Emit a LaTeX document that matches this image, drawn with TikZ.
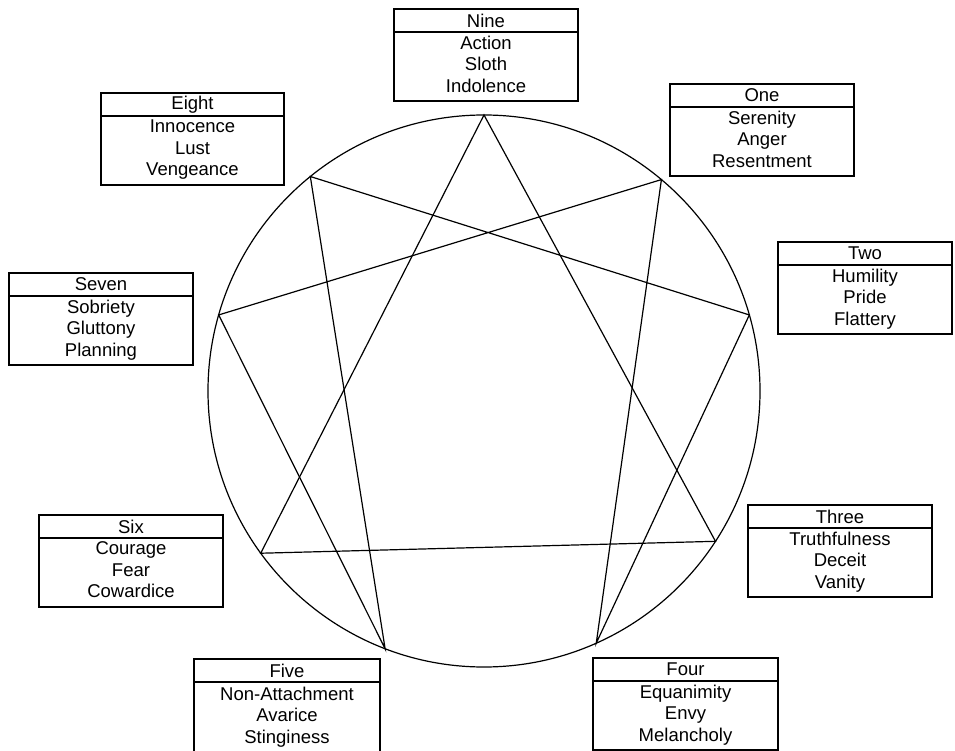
\documentclass[tikz,border=0pt]{standalone}
\usepackage{fontspec}
\setmainfont{Liberation Sans}
\begin{document}
\begin{tikzpicture}[x=1pt,y=-1pt,line width=1.2pt,
  cellfont/.style={font=\fontsize{18.5}{21.5}\selectfont},
  titlecell/.style={draw,cellfont,rectangle,inner sep=0pt,outer sep=0pt,minimum height=23pt},
  bodycell/.style={draw,cellfont,rectangle,align=center,inner sep=0pt,outer sep=0pt,minimum height=69pt,text depth=5pt},
  ringstyle/.style={draw,circle,inner sep=0pt,outer sep=0pt,minimum size=552pt}]
\useasboundingbox (0,0) rectangle (955,751);
\fill[white] (0,0) rectangle (955,751);

% a type box: name, left, top, width, title, three body lines
\newcommand{\typebox}[9][]{%
  \node[titlecell,minimum width=#5pt,anchor=north west] (#2-t) at (#3,#4) {#6};
  \node[bodycell,minimum width=#5pt,anchor=north,#1] (#2-b) at (#2-t.south) {#7\\#8\\#9};
}

% the circle and its nine points
\node[ringstyle] (ring) at (484,391) {};
\coordinate (p9) at (ring.90);
\coordinate (p1) at (ring.50.6);
\coordinate (p2) at (ring.16.7);
\coordinate (p3) at (ring.-33.9);
\coordinate (p4) at (ring.-66.5);
\coordinate (p5) at (ring.-111.8);
\coordinate (p6) at (ring.-144.7);
\coordinate (p7) at (ring.164.6);
\coordinate (p8) at (ring.129.8);

% triangle 9-3-6 and hexad 1-4-2-8-5-7
\draw (p9) -- (p3) -- (p6) -- cycle;
\draw (p1) -- (p4) -- (p2) -- (p8) -- (p5) -- (p7) -- cycle;

% labels
\typebox{nine}{394}{9}{184}{Nine}{Action}{Sloth}{Indolence}
\typebox{one}{670}{84}{184}{One}{Serenity}{Anger}{Resentment}
\typebox{two}{778}{242}{174}{Two}{Humility}{Pride}{Flattery}
\typebox{three}{748}{505}{184}{Three}{Truthfulness}{Deceit}{Vanity}
\typebox{four}{593}{658}{185}{Four}{Equanimity}{Envy}{Melancholy}
\typebox[minimum height=74pt,text depth=8pt]{five}{194}{659}{186}{Five}{Non-Attachment}{Avarice}{Stinginess}
\typebox{six}{39}{515}{184}{Six}{Courage}{Fear}{Cowardice}
\typebox{seven}{9}{273}{184}{Seven}{Sobriety}{Gluttony}{Planning}
\typebox{eight}{101}{93}{183}{Eight}{Innocence}{Lust}{Vengeance}
\end{tikzpicture}
\end{document}
